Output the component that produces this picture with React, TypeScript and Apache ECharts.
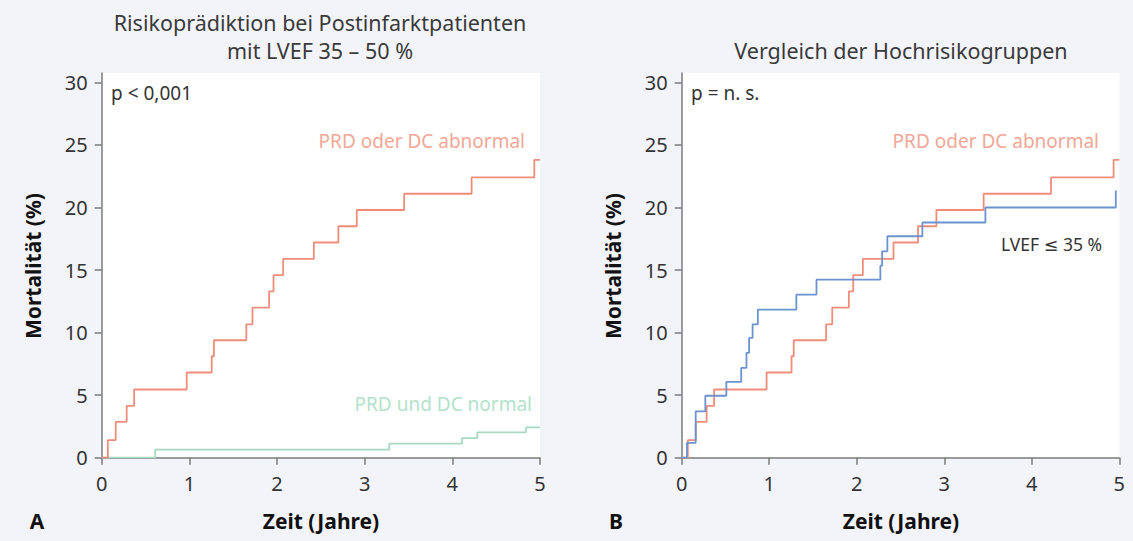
import React, { useEffect, useRef } from "react";
import * as echarts from "echarts";

// Axis ticks
const yTicks = [0, 5, 10, 15, 20, 25, 30];
const xTicks = [0, 1, 2, 3, 4, 5];

// Cumulative mortality steps: [Zeit (Jahre), Mortalität (%)]
const prdOderDcAbnormal: [number, number][] = [
  [0, 0], [0.07, 1.41], [0.16, 2.87], [0.285, 4.15], [0.37, 5.45], [0.97, 6.81],
  [1.255, 8.11], [1.28, 9.39], [1.65, 10.66], [1.72, 12.0], [1.91, 13.3],
  [1.96, 14.6], [2.07, 15.9], [2.42, 17.2], [2.7, 18.5], [2.91, 19.8],
  [3.45, 21.1], [4.22, 22.4], [4.935, 23.8], [5, 23.8],
];

const prdUndDcNormal: [number, number][] = [
  [0, 0], [0.61, 0.64], [3.28, 1.12], [4.11, 1.57], [4.285, 2.02], [4.84, 2.42], [5, 2.42],
];

const lvefUnter35: [number, number][] = [
  [0, 0], [0.06, 1.19], [0.16, 3.7], [0.27, 4.95], [0.51, 6.06], [0.68, 7.18],
  [0.74, 8.38], [0.77, 9.57], [0.81, 10.66], [0.87, 11.84], [1.31, 13.03],
  [1.54, 14.23], [2.27, 15.35], [2.29, 16.5], [2.35, 17.7], [2.75, 18.8],
  [3.47, 20.0], [4.96, 21.36],
];

const FONT = '"Noto Sans", "DejaVu Sans", sans-serif';
const ORANGE = "#ef8d7a";
const ORANGE_TEXT = "#f2a796";
const GREEN = "#a6dbc2";
const GREEN_TEXT = "#b3e2cb";
const BLUE = "#6b93cf";
const AXIS = "#7b7b7b";
const TEXT = "#333333";

const grids = [
  { left: 101.7, top: 73, width: 438.3, height: 384.7 },
  { left: 681.7, top: 73, width: 437.6, height: 384.7 },
];

function makeXAxis(gridIndex: number) {
  return {
    type: "value",
    gridIndex,
    min: 0,
    max: 5,
    interval: 1,
    axisLine: { show: true, lineStyle: { color: AXIS, width: 1.5 } },
    axisTick: { show: true, length: 7, lineStyle: { color: AXIS, width: 1.5 } },
    axisLabel: {
      color: TEXT,
      fontSize: 20,
      fontFamily: FONT,
      margin: 16,
      customValues: xTicks,
    },
    splitLine: { show: false },
  };
}

function makeYAxis(gridIndex: number) {
  return {
    type: "value",
    gridIndex,
    min: 0,
    max: 30.75,
    axisLine: { show: true, lineStyle: { color: AXIS, width: 1.5 } },
    axisTick: {
      show: true,
      length: 7,
      lineStyle: { color: AXIS, width: 1.5 },
      customValues: yTicks,
    },
    axisLabel: {
      color: TEXT,
      fontSize: 20,
      fontFamily: FONT,
      margin: 14,
      customValues: yTicks,
    },
    splitLine: { show: false },
  };
}

function stepSeries(data: [number, number][], color: string, idx: number) {
  return {
    type: "line",
    step: "end",
    xAxisIndex: idx,
    yAxisIndex: idx,
    data,
    symbol: "none",
    lineStyle: { color, width: 1.8 },
    z: 3,
  };
}

function txt(
  text: string,
  x: number,
  y: number,
  opts: { color?: string; size?: number; weight?: string; align?: string; rotation?: number } = {}
) {
  return {
    type: "text",
    x,
    y,
    rotation: opts.rotation ?? 0,
    z: 10,
    style: {
      text,
      fill: opts.color ?? TEXT,
      fontSize: opts.size ?? 19,
      fontFamily: FONT,
      fontWeight: opts.weight ?? "normal",
      align: opts.align ?? "center",
      verticalAlign: "middle",
    },
  };
}

export default function App() {
  const ref = useRef<HTMLDivElement>(null);

  useEffect(() => {
    if (!ref.current) return;
    const chart = echarts.init(ref.current, null, { renderer: "svg" });
    chart.setOption({
      animation: false,
      backgroundColor: "#f3f4f9",
      grid: grids.map((g) => ({
        ...g,
        show: true,
        backgroundColor: "#ffffff",
        borderWidth: 0,
        containLabel: false,
      })),
      xAxis: [makeXAxis(0), makeXAxis(1)],
      yAxis: [makeYAxis(0), makeYAxis(1)],
      series: [
        stepSeries(prdUndDcNormal, GREEN, 0),
        stepSeries(prdOderDcAbnormal, ORANGE, 0),
        stepSeries(prdOderDcAbnormal, ORANGE, 1),
        stepSeries(lvefUnter35, BLUE, 1),
      ],
      graphic: [
        // titles
        txt("Risikoprädiktion bei Postinfarktpatienten", 320, 22, { color: "#3a3a3a", size: 21.5 }),
        txt("mit LVEF 35 – 50 %", 320, 50, { color: "#3a3a3a", size: 21.5 }),
        txt("Vergleich der Hochrisikogruppen", 901, 50, { color: "#3a3a3a", size: 21.5 }),
        // axis titles
        txt("Mortalität (%)", 33, 266, { weight: "bold", size: 21, rotation: Math.PI / 2, color: "#111" }),
        txt("Mortalität (%)", 613, 266, { weight: "bold", size: 21, rotation: Math.PI / 2, color: "#111" }),
        txt("Zeit (Jahre)", 321, 521, { weight: "bold", size: 21, color: "#111" }),
        txt("Zeit (Jahre)", 901, 521, { weight: "bold", size: 21, color: "#111" }),
        txt("A", 37, 521, { weight: "bold", size: 21, color: "#111" }),
        txt("B", 616, 521, { weight: "bold", size: 21, color: "#111" }),
        // annotations, panel A
        txt("p < 0,001", 111, 93, { align: "left", size: 19 }),
        txt("PRD oder DC abnormal", 525, 141, { align: "right", color: ORANGE_TEXT }),
        txt("PRD und DC normal", 532, 404, { align: "right", color: GREEN_TEXT }),
        // annotations, panel B
        txt("p = n. s.", 691, 93, { align: "left", size: 19 }),
        txt("PRD oder DC abnormal", 1099, 141, { align: "right", color: ORANGE_TEXT }),
        txt("LVEF ≤ 35 %", 1102, 244, { align: "right", size: 17.5 }),
      ],
    });
    return () => chart.dispose();
  }, []);

  return (
    <div
      ref={ref}
      style={{ position: "fixed", left: 0, top: 0, width: 1133, height: 541 }}
    />
  );
}
